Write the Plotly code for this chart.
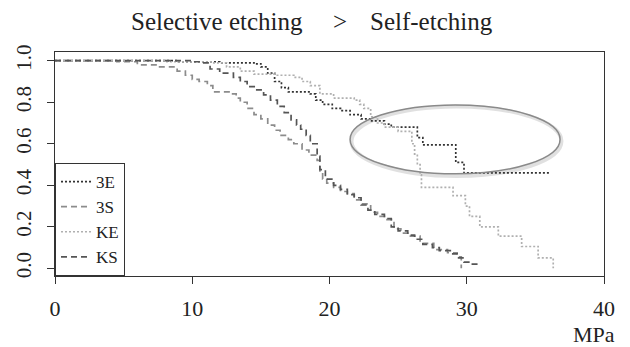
import plotly.graph_objects as go

# Kaplan-Meier style step data (MPa, survival proportion)
e3_x = [0, 9, 12, 14.5, 15.0, 15.5, 16.0, 16.5, 17.0, 18.6, 19.0, 19.5, 20.2, 20.8, 21.5, 22.3, 23.0, 24.0, 24.5, 26.4, 26.8, 29.2, 29.8, 36.1]
e3_y = [1.0, 0.995, 0.99, 0.985, 0.97, 0.94, 0.90, 0.87, 0.85, 0.84, 0.81, 0.79, 0.77, 0.76, 0.74, 0.72, 0.71, 0.695, 0.68, 0.63, 0.595, 0.51, 0.46, 0.46]

s3_x = [0, 4.5, 6.0, 7.5, 8.9, 9.5, 10.0, 10.5, 11.1, 11.5, 12.8, 13.2, 13.5, 14.0, 14.5, 15.0, 15.5, 16.0, 16.4, 17.0, 17.4, 18.0, 18.5, 19.1, 19.3, 19.5, 19.8, 20.3, 20.8, 21.3, 21.8, 22.3, 23.0, 23.5, 24.0, 24.7, 25.2, 25.7, 26.6, 27.6, 28.6, 29.3, 29.6]
s3_y = [1.0, 0.995, 0.98, 0.97, 0.95, 0.93, 0.91, 0.90, 0.88, 0.85, 0.84, 0.82, 0.80, 0.77, 0.74, 0.72, 0.69, 0.665, 0.64, 0.62, 0.60, 0.57, 0.545, 0.52, 0.46, 0.43, 0.41, 0.39, 0.37, 0.36, 0.33, 0.31, 0.27, 0.25, 0.235, 0.19, 0.17, 0.155, 0.12, 0.09, 0.075, 0.055, 0.0]

ke_x = [0, 8, 11.5, 12.5, 13.5, 14.5, 16.0, 17.4, 18.0, 18.6, 19.3, 20.3, 21.8, 22.2, 22.5, 23.0, 23.5, 24.0, 25.0, 26.0, 26.2, 26.4, 26.6, 26.7, 29.0, 29.9, 30.2, 30.95, 32.3, 34.0, 35.2, 36.3]
ke_y = [1.0, 0.995, 0.99, 0.97, 0.95, 0.935, 0.93, 0.92, 0.90, 0.88, 0.84, 0.82, 0.81, 0.79, 0.77, 0.73, 0.70, 0.68, 0.66, 0.60, 0.55, 0.50, 0.45, 0.39, 0.35, 0.30, 0.25, 0.20, 0.155, 0.105, 0.05, 0.0]

ks_x = [0, 10.0, 10.6, 11.3, 12.0, 13.0, 13.5, 14.0, 14.6, 15.2, 15.7, 16.2, 16.7, 17.2, 17.6, 17.9, 18.3, 18.6, 19.1, 19.3, 19.7, 20.3, 20.8, 21.3, 21.8, 22.3, 22.8, 23.3, 24.0, 24.5, 25.0, 25.7, 26.2, 26.8, 27.5, 28.0, 28.8, 29.3, 29.8, 30.3, 30.8]
ks_y = [1.0, 0.995, 0.99, 0.96, 0.94, 0.92, 0.90, 0.875, 0.86, 0.835, 0.81, 0.78, 0.75, 0.715, 0.69, 0.67, 0.64, 0.60, 0.54, 0.475, 0.43, 0.40, 0.38, 0.355, 0.34, 0.305, 0.28, 0.26, 0.24, 0.20, 0.18, 0.16, 0.14, 0.115, 0.10, 0.085, 0.07, 0.05, 0.03, 0.02, 0.015]

series_names = ["3E", "3S", "KE", "KS"]
x_ticks = [0, 10, 20, 30, 40]
y_ticks = [0.0, 0.2, 0.4, 0.6, 0.8, 1.0]

FONT = "Liberation Serif"

fig = go.Figure()
styles = [
    (e3_x, e3_y, "#333333", "2px,2px"),
    (s3_x, s3_y, "#8c8c8c", "6px,4px"),
    (ke_x, ke_y, "#b0b0b0", "2px,2px"),
    (ks_x, ks_y, "#555555", "6px,4px"),
]
for name, (xs, ys, col, dash) in zip(series_names, styles):
    fig.add_trace(go.Scatter(x=xs, y=ys, mode="lines", name=name,
                             line=dict(color=col, width=1.7, dash=dash, shape="hv")))

# highlight ellipse (shadow + outline)
fig.add_shape(type="circle", xref="x", yref="y", x0=21.6, x1=36.9, y0=0.445, y1=0.78,
              line=dict(color="rgba(0,0,0,0.12)", width=4), layer="below")
fig.add_shape(type="circle", xref="x", yref="y", x0=21.5, x1=36.8, y0=0.455, y1=0.787,
              line=dict(color="#8a8a8a", width=1.5))

fig.update_layout(
    template="none",
    width=630, height=347,
    margin=dict(l=55, r=26, t=52, b=71),
    paper_bgcolor="white", plot_bgcolor="white",
    font=dict(family=FONT, color="#222222", size=20),
    showlegend=True,
    legend=dict(x=0, y=0, xanchor="left", yanchor="bottom",
                bgcolor="white", bordercolor="#333333", borderwidth=1,
                font=dict(family=FONT, size=17, color="#222222"),
                tracegroupgap=0, itemwidth=30),
    xaxis=dict(range=[0, 40], tickvals=x_ticks, ticks="outside", ticklen=7,
               tickcolor="#333333", showline=True, linecolor="#333333", linewidth=1,
               mirror=True, showgrid=False, zeroline=False,
               tickfont=dict(family=FONT, size=22), ticklabelstandoff=6),
    yaxis=dict(range=[-0.037, 1.042], tickvals=y_ticks, tickformat=".1f",
               ticks="outside", ticklen=7, tickcolor="#333333", tickangle=-90,
               showline=True, linecolor="#333333", linewidth=1, mirror=True,
               showgrid=False, zeroline=False,
               tickfont=dict(family=FONT, size=21), ticklabelstandoff=8),
)

ann = [
    ("Selective etching", 0.295, 1.134),
    (">", 0.519, 1.134),
    ("Self-etching", 0.685, 1.134),
]
for t, xx, yy in ann:
    fig.add_annotation(text=t, xref="paper", yref="paper", x=xx, y=yy,
                       showarrow=False, xanchor="center", yanchor="middle",
                       font=dict(family=FONT, size=25, color="#222222"))
fig.add_annotation(text="MPa", xref="paper", yref="paper", x=0.982, y=-0.263,
                   showarrow=False, xanchor="center", yanchor="middle",
                   font=dict(family=FONT, size=22, color="#222222"))

fig.write_html("out.html")
